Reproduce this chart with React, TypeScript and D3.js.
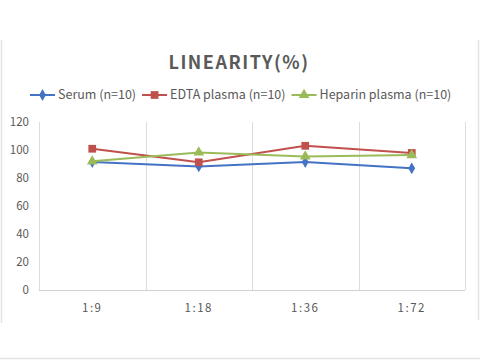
import React, { useRef, useEffect } from "react";
import * as d3 from "d3";

const categories = ["1:9", "1:18", "1:36", "1:72"];
const serum = [91.4, 88.3, 91.4, 86.9];
const edta = [100.9, 91.2, 103, 97.9];
const heparin = [91.9, 98.3, 95.4, 96.4];
const yTicks = [0, 20, 40, 60, 80, 100, 120];

const seriesList = [
  { name: "Serum (n=10)", values: serum, color: "#4472C4", symbol: d3.symbolDiamond, size: 40 },
  { name: "EDTA plasma (n=10)", values: edta, color: "#C0504D", symbol: d3.symbolSquare, size: 60 },
  { name: "Heparin plasma (n=10)", values: heparin, color: "#9BBB59", symbol: d3.symbolTriangle, size: 50 },
];

const App = () => {
  const chartRef = useRef<HTMLDivElement>(null);

  useEffect(() => {
    const width = 480;
    const height = 360;
    const marginLeft = 39;
    const marginRight = 15;
    const marginTop = 122;
    const marginBottom = 70;
    const font = "'Noto Sans CJK SC', 'Noto Sans', sans-serif";
    const textColor = "#595959";

    const x = d3.scaleBand()
      .domain(categories)
      .range([marginLeft, width - marginRight]);

    const y = d3.scaleLinear()
      .domain([0, 120])
      .range([height - marginBottom, marginTop]);

    const svg = d3.create("svg")
      .attr("width", width)
      .attr("height", height)
      .attr("viewBox", [0, 0, width, height])
      .style("position", "absolute")
      .style("left", "0px")
      .style("top", "0px")
      .style("background", "#fff");

    chartRef.current!.innerHTML = "";
    chartRef.current!.appendChild(svg.node()!);

    // faint frame from the scan
    svg.append("path")
      .attr("d", `M1.5,40V323M478.5,40V320M0,358.5H480`)
      .attr("stroke", "#e4e4e4")
      .attr("stroke-width", 1.5)
      .attr("fill", "none");

    svg.append("text")
      .attr("x", 239)
      .attr("y", 69)
      .attr("text-anchor", "middle")
      .attr("fill", "#5a5a5a")
      .style("font", `bold 18px ${font}`)
      .style("letter-spacing", "1.5px")
      .text("LINEARITY(%)");

    // vertical gridlines at band edges
    const edges = categories.map(c => x(c)!).concat([width - marginRight]);
    svg.append("g")
      .selectAll("line")
      .data(edges)
      .join("line")
      .attr("x1", d => Math.round(d) + 0.5)
      .attr("x2", d => Math.round(d) + 0.5)
      .attr("y1", y(120))
      .attr("y2", y(0))
      .attr("stroke", "#dcdcdc");

    svg.append("line")
      .attr("x1", marginLeft)
      .attr("x2", width - marginRight)
      .attr("y1", Math.round(y(0)) + 0.5)
      .attr("y2", Math.round(y(0)) + 0.5)
      .attr("stroke", "#d0d0d0");

    svg.append("g")
      .selectAll("text")
      .data(yTicks)
      .join("text")
      .attr("x", 29)
      .attr("y", d => y(d))
      .attr("dy", "0.35em")
      .attr("text-anchor", "end")
      .attr("fill", textColor)
      .style("font", `11.5px ${font}`)
      .text(d => d);

    svg.append("g")
      .selectAll("text")
      .data(categories)
      .join("text")
      .attr("x", d => x(d)! + x.bandwidth() / 2)
      .attr("y", 308)
      .attr("dy", "0.35em")
      .attr("text-anchor", "middle")
      .attr("fill", textColor)
      .style("font", `11.5px ${font}`)
      .style("letter-spacing", "1.5px")
      .text(d => d);

    const line = d3.line<number>()
      .x((d, i) => x(categories[i])! + x.bandwidth() / 2)
      .y(d => y(d));

    seriesList.forEach(s => {
      svg.append("path")
        .datum(s.values)
        .attr("fill", "none")
        .attr("stroke", s.color)
        .attr("stroke-width", 2)
        .attr("d", line);

      svg.append("g")
        .selectAll("path")
        .data(s.values)
        .join("path")
        .attr("transform", (d, i) => `translate(${x(categories[i])! + x.bandwidth() / 2},${y(d)})`)
        .attr("d", d3.symbol().type(s.symbol).size(s.size)())
        .attr("fill", s.color);
    });

    // legend
    const legend = svg.append("g");
    let lx = 30;
    const ly = 95;
    seriesList.forEach(s => {
      legend.append("line")
        .attr("x1", lx)
        .attr("x2", lx + 25)
        .attr("y1", ly)
        .attr("y2", ly)
        .attr("stroke", s.color)
        .attr("stroke-width", 2);
      legend.append("path")
        .attr("transform", `translate(${lx + 12.5},${ly})`)
        .attr("d", d3.symbol().type(s.symbol).size(s.size)())
        .attr("fill", s.color);
      const t = legend.append("text")
        .attr("x", lx + 28)
        .attr("y", ly)
        .attr("dy", "0.35em")
        .attr("fill", textColor)
        .style("font", `12.5px ${font}`)
        .text(s.name);
      lx += 28 + (t.node() as SVGTextElement).getComputedTextLength() + 6;
    });
  }, []);

  return <div ref={chartRef} />;
};

export default App;
